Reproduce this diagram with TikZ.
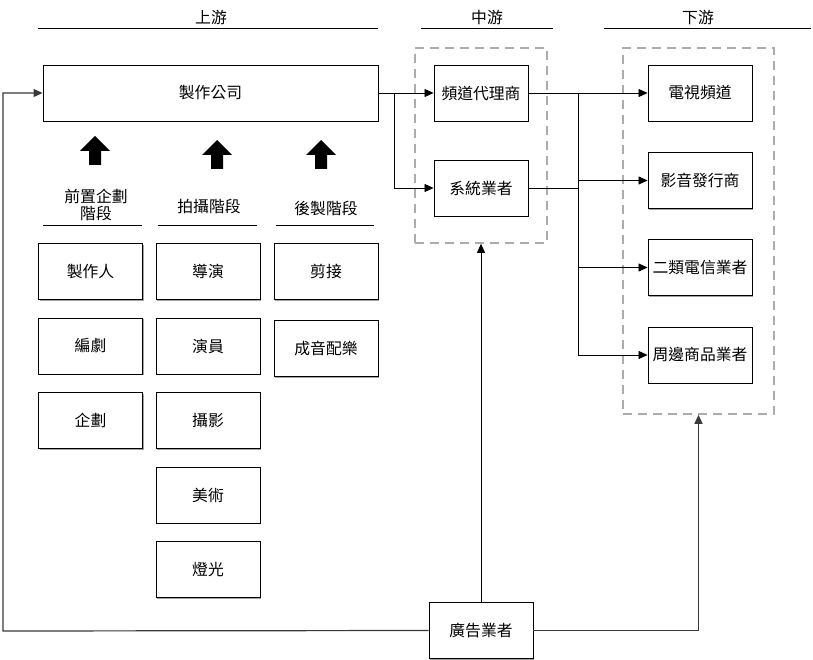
\documentclass[tikz,border=0pt]{standalone}
\usepackage{fontspec}
\setmainfont{Noto Sans CJK TC}
\usetikzlibrary{arrows.meta,shadows}

\begin{document}
\begin{tikzpicture}
[x=1pt,y=-1pt,font=\fontsize{15.8}{17}\selectfont,%
  boxDecorate/.style={shape=rectangle,draw,line width=0.9pt,fill=white,inner sep=0pt,
    minimum width=104pt,minimum height=56pt,
    drop shadow={shadow xshift=1.2pt,shadow yshift=-1.2pt,fill=gray!80,opacity=0.9}},
  groupDecorate/.style={shape=rectangle,draw=gray!65,line width=1.6pt,
    dash pattern=on 9pt off 6pt,inner sep=0pt},
  lineDecorate/.style={-{Triangle[length=9pt,width=8pt]},line width=0.8pt},
  loopDecorate/.style={-{Triangle[length=9pt,width=8pt]},line width=1.2pt,draw=gray!45!black},
  ruleDecorate/.style={line width=0.8pt},
  upArrow/.pic={\fill (-15,15) -- (0,0) -- (15,15) -- (6,15) -- (6,29) -- (-6,29) -- (-6,15) -- cycle;}]
\useasboundingbox (0,0) rectangle (813,660);

%% headers
\node (upTitle) at (211,17) {上游};
\node (midTitle) at (487,17) {中游};
\node (downTitle) at (698,17) {下游};
\draw[ruleDecorate] (38,28) -- (378,28);
\draw[ruleDecorate] (421,28) -- (553,28);
\draw[ruleDecorate] (604,28) -- (811,28);

%% groups
\node (midGroup) at (481,145.5) [groupDecorate,minimum width=132pt,minimum height=195pt] {};
\node (downGroup) at (698.5,231) [groupDecorate,minimum width=151pt,minimum height=366pt] {};

%% main boxes
\node (prod) at (210.5,93) [boxDecorate,minimum width=335pt] {製作公司};
\node (agent) at (481,93) [boxDecorate,minimum width=94pt] {頻道代理商};
\node (system) at (481,188) [boxDecorate,minimum width=94pt] {系統業者};
\foreach \nodename/\y/\txt in {
  tv/93/電視頻道, video/180.5/影音發行商, telecom/267.5/二類電信業者, goods/355/周邊商品業者}
{
  \node (\nodename) at (700,\y) [boxDecorate] {\txt};
}
\node (ad) at (481,630.5) [boxDecorate] {廣告業者};

%% stages
\foreach \nodename/\x/\y in {arrPre/95/136, arrShoot/217/140, arrPost/321/140}
{
  \pic (\nodename) at (\x,\y) {upArrow};
}
\node (preStage) at (96,205) [align=center] {前置企劃\\階段};
\node (shootStage) at (209,206) {拍攝階段};
\node (postStage) at (326,208) {後製階段};
\draw[ruleDecorate] (43,225) -- (142,225);
\draw[ruleDecorate] (158,225) -- (257,225);
\draw[ruleDecorate] (276,225) -- (374,225);

%% staff boxes
\foreach \nodename/\x/\y/\txt in {
  producer/90.5/271.5/製作人, writer/90.5/346/編劇, planner/90.5/420.5/企劃,
  director/208/271.5/導演, actor/208/346/演員, camera/208/420.5/攝影,
  art/208/495/美術, light/208/569.5/燈光,
  editor/326/271.5/剪接, sound/326/348.5/成音配樂}
{
  \node (\nodename) at (\x,\y) [boxDecorate] {\txt};
}

%% edges
\coordinate (splitA) at (394,93);
\coordinate (splitB) at (578,93);
\coordinate (splitC) at (578,355);
\coordinate (loopLeft) at (3,631);
\draw[lineDecorate] (prod.east) -- (agent.west);
\draw[lineDecorate] (splitA) |- (system.west);
\draw[line width=0.8pt] (agent.east) -- (splitB) -- (splitC);
\draw[line width=0.8pt] (system.east) -- (system.east -| splitB);
\foreach \endnode in {tv, video, telecom, goods}
{
  \draw[lineDecorate] (splitB |- \endnode.west) -- (\endnode.west);
}
\draw[lineDecorate] (ad.north) -- (midGroup.south);
\draw[loopDecorate] (ad.west) -- (loopLeft) |- (prod.west);
\draw[loopDecorate] (ad.east) -| (downGroup.south);
\end{tikzpicture}
\end{document}
